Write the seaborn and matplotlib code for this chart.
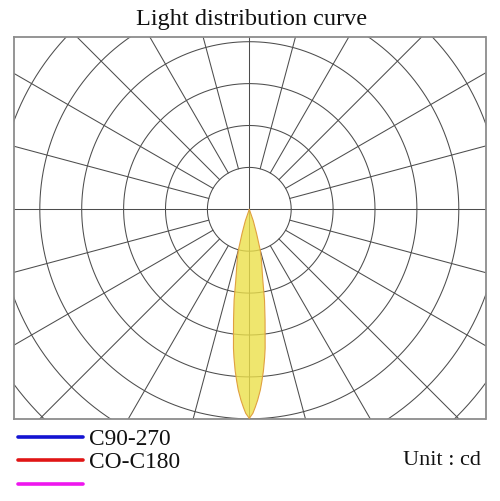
import numpy as np
import pandas as pd
import matplotlib
matplotlib.use("Agg")
import matplotlib.pyplot as plt
import seaborn as sns

# ---- data ----
title = "Light distribution curve"
unit_label = "Unit : cd"
legend_labels = ["C90-270", "CO-C180", ""]
legend_colors = ["#1414d2", "#e01616", "#ee16ee"]

# beam: angle from nadir (deg) vs intensity (in grid-ring units)
beam_angle = [0, 1.0, 1.7, 2.5, 3.5, 4.2, 5.0, 5.9, 6.5, 7.2, 8.1, 9.5, 10.8, 12.5, 13.8, 15.0, 16.7, 19.0, 22.0]
beam_value = [4.99, 4.87, 4.73, 4.56, 4.32, 4.11, 3.87, 3.56, 3.34, 3.01, 2.67, 2.20, 1.72, 1.38, 1.19, 1.01, 0.60, 0.29, 0.0]

ring_values = [1, 2, 3, 4, 5, 6, 7, 8, 9]
spoke_angles = list(range(0, 360, 15))

# ---- style ----
sns.set_style("white")
plt.rcParams['font.family'] = ['Liberation Serif', 'DejaVu Serif']

W, H = 500, 501
fig = plt.figure(figsize=(W / 100, H / 100), dpi=100)

left, right, top, bottom = 13.5, 485.5, 37, 419
cx, cy, ppr = 249.3, 209.3, 41.9
ax = fig.add_axes([left / W, 1 - bottom / H, (right - left) / W, (bottom - top) / H])
ax.set_xlim(-(cx - left) / ppr, (right - cx) / ppr)
ax.set_ylim(-(bottom - cy) / ppr, (cy - top) / ppr)
ax.set_xticks([]); ax.set_yticks([])
for s in ax.spines.values():
    s.set_color("#8c8c8c"); s.set_linewidth(1.3)

grid_c = "#4d4d4d"
grid_lw = 0.75
t = np.linspace(0, 2 * np.pi, 400)
for r in ring_values:
    ax.plot(r * np.cos(t), r * np.sin(t), color=grid_c, lw=grid_lw, zorder=1)
for a in spoke_angles:
    rad = np.deg2rad(a)
    r0 = 0 if a % 90 == 0 else 1
    ax.plot([r0 * np.cos(rad), 12 * np.cos(rad)], [r0 * np.sin(rad), 12 * np.sin(rad)],
            color=grid_c, lw=grid_lw, zorder=1)

# beam (mirror about nadir), closed loop
ang = np.array(beam_angle); val = np.array(beam_value)
full_ang = np.concatenate([-ang[::-1], ang[1:], [-ang[-1]]])
full_val = np.concatenate([val[::-1], val[1:], [val[-1]]])
th = np.deg2rad(full_ang)
df = pd.DataFrame({"x": full_val * np.sin(th), "y": -full_val * np.cos(th)})
ax.fill(df["x"], df["y"], color="#ECE04A", alpha=0.8, zorder=2, lw=0)
sns.lineplot(data=df, x="x", y="y", sort=False, estimator=None, ax=ax,
             color="#e0a040", lw=0.8, zorder=3)
ax.set_xlabel(""); ax.set_ylabel("")

# overlay in pixel coords
ov = fig.add_axes([0, 0, 1, 1], zorder=5)
ov.set_xlim(0, W); ov.set_ylim(H, 0); ov.axis("off"); ov.patch.set_alpha(0)
ov.text(252, 25, title, ha="center", va="baseline", fontsize=17.5, color="#111111")
leg_y = [437, 460, 484]
for lab, col, y in zip(legend_labels, legend_colors, leg_y):
    ov.plot([18, 83], [y, y], color=col, lw=2.6, solid_capstyle="round")
    if lab:
        ov.text(89, y + 8, lab, ha="left", va="baseline", fontsize=16.8, color="#111111")
ov.text(481, 465, unit_label, ha="right", va="baseline", fontsize=16, color="#111111")

fig.savefig("out.png", dpi=100)
